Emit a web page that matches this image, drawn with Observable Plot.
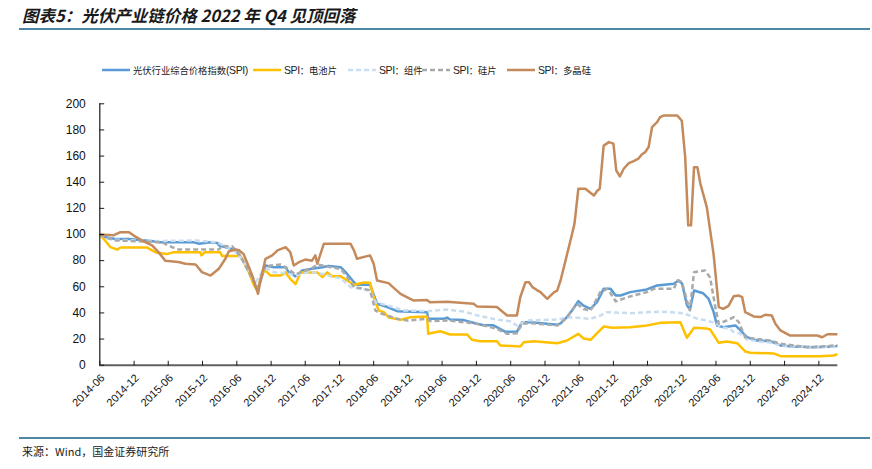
<!DOCTYPE html>
<html>
<head>
<meta charset="utf-8">
<script src="https://cdn.jsdelivr.net/npm/d3@7"></script>
<script src="https://cdn.jsdelivr.net/npm/@observablehq/plot@0.6"></script>
<style>
  body { margin: 0; background: #fff; }
  #wrap { position: relative; width: 872px; height: 469px; background: #fff; overflow: hidden; }
  #chart { position: absolute; left: 0; top: 0; }
  .title { position: absolute; left: 22px; top: 3px; font-family: "Noto Sans CJK SC", sans-serif; font-weight: bold; font-style: italic; font-size: 16.5px; color: #1a1a1a; white-space: nowrap; }
  .rule { position: absolute; left: 19px; width: 851px; height: 2px; background: #4f86a3; }
  .source { position: absolute; left: 22px; top: 443px; font-family: "Noto Sans CJK SC", sans-serif; font-size: 11px; color: #222; white-space: nowrap; }
  .lg { position: absolute; top: 63px; display: flex; align-items: center; font-family: "Noto Sans CJK SC", sans-serif; font-size: 9.3px; color: #222; white-space: nowrap; }
  .lg svg { margin-right: 3px; }
  .lg .latin { font-family: "Liberation Sans", Arial, sans-serif; font-size: 10.5px; letter-spacing: -0.4px; }
</style>
</head>
<body>
<div id="wrap">
  <div class="title">图表5：光伏产业链价格 2022 年 Q4 见顶回落</div>
  <div class="rule" style="top:28px"></div>
  <div id="legend"></div>
  <div id="chart"></div>
  <div class="rule" style="top:437px"></div>
  <div class="source">来源：Wind，国金证券研究所</div>
</div>
<script>
// ---------------- data ----------------
const seriesNames = ["光伏行业综合价格指数(SPI)", "SPI：电池片", "SPI：组件", "SPI：硅片", "SPI：多晶硅"];

const spiIndex = [
  ["2014-06-01",100],["2014-07-01",98],["2014-08-23",96.5],["2014-11-01",96.5],["2014-12-16",96],["2015-03-01",95],
  ["2015-04-16",94],["2015-10-16",94],["2015-11-10",93],["2016-01-13",94],["2016-02-19",93.5],["2016-02-28",91.6],
  ["2016-04-19",89.6],["2016-05-25",88],["2016-06-29",81.4],["2016-08-04",72.5],["2016-09-19",57.2],["2016-11-01",76.3],
  ["2016-12-16",75],["2017-02-16",75],["2017-03-04",71.2],["2017-04-10",68],["2017-05-16",72.5],["2017-07-07",73.8],
  ["2017-09-01",75],["2017-10-04",76],["2017-12-07",75],["2018-01-02",71.2],["2018-02-16",63.5],["2018-03-04",61.5],
  ["2018-05-13",61.5],["2018-06-19",47],["2018-08-13",44.5],["2018-10-04",41.3],["2019-03-13",40.6],["2019-03-19",35.5],
  ["2019-06-10",35.5],["2019-06-28",36.4],["2019-07-14",35],["2019-09-25",34.5],["2019-12-04",31.7],["2020-01-10",30.5],
  ["2020-03-01",30.5],["2020-03-19",29.1],["2020-05-04",25.5],["2020-07-04",25.5],["2020-08-01",32.9],["2020-09-16",32.9],
  ["2021-02-05",31],["2021-02-22",32],["2021-03-28",36.7],["2021-04-25",42],["2021-05-28",49],["2021-06-25",45.5],
  ["2021-08-01",43.1],["2021-09-05",48.5],["2021-10-10",58.4],["2021-11-16",58.4],["2021-12-13",53.3],["2022-01-08",53.3],
  ["2022-03-01",55.9],["2022-05-28",58],["2022-07-22",61],["2022-10-19",62.3],["2022-11-14",64.8],["2022-12-02",62.5],
  ["2022-12-28",46],["2023-01-13",42.5],["2023-02-04",57.2],["2023-03-25",55],["2023-04-22",51],["2023-05-19",41],
  ["2023-06-07",30.4],["2023-07-10",29.1],["2023-09-13",30.4],["2023-10-10",26.6],["2023-11-13",21.4],["2024-01-07",18.9],
  ["2024-03-16",18.4],["2024-05-10",15.1],["2024-07-19",14.3],["2024-11-04",13.8],["2025-02-19",14.3],["2025-03-10",14.8]
];

const cellPrices = [
  ["2014-06-01",100],["2014-07-01",95],["2014-07-28",90.3],["2014-09-02",88.4],["2014-09-19",90],["2015-02-10",90],
  ["2015-02-28",88.4],["2015-03-24",86.5],["2015-04-03",86],["2015-05-25",85],["2015-07-01",86.5],["2015-11-19",86.5],
  ["2015-11-25",84],["2015-12-13",86.5],["2016-03-04",86.5],["2016-03-14",83.5],["2016-06-20",83.5],["2016-07-07",80],
  ["2016-08-04",71.2],["2016-09-01",61],["2016-09-19",57.2],["2016-10-14",71],["2016-11-01",72.4],["2016-11-28",68.6],
  ["2017-01-22",68.6],["2017-02-16",71],["2017-03-13",66.1],["2017-04-10",62],["2017-05-07",71],["2017-08-04",71],
  ["2017-09-01",67.4],["2017-09-26",71],["2017-10-22",68],["2017-12-07",68],["2018-01-11",64.8],["2018-02-16",61.5],
  ["2018-04-10",63.3],["2018-05-13",63],["2018-06-01",52],["2018-06-28",41.9],["2018-07-25",40.6],["2018-08-19",36.7],
  ["2018-10-22",34.7],["2018-12-13",36.7],["2019-03-13",37.3],["2019-03-19",24],["2019-05-22",26],["2019-07-14",23.5],
  ["2019-10-13",23.5],["2019-11-08",19.4],["2019-12-22",18.4],["2020-03-19",18.4],["2020-04-07",15.1],["2020-07-22",14.3],
  ["2020-08-10",17.6],["2020-10-01",18.4],["2021-02-05",16.8],["2021-03-28",18.9],["2021-05-28",24],["2021-06-25",20.4],
  ["2021-08-01",19.4],["2021-09-05",24.5],["2021-10-10",29.6],["2021-11-25",28.6],["2022-03-01",29.1],["2022-05-28",30.4],
  ["2022-08-08",32.4],["2022-11-23",32.9],["2022-12-28",21],["2023-02-04",28.6],["2023-04-13",28],["2023-05-01",27.3],
  ["2023-06-16",17.1],["2023-07-28",18.2],["2023-09-22",16.8],["2023-11-04",10.5],["2023-12-01",9.5],["2024-04-04",9],
  ["2024-05-10",6.9],["2024-12-10",6.8],["2025-02-19",7.4],["2025-03-10",8.5]
];

const modulePrices = [
  ["2014-06-01",100],["2014-07-10",97],["2014-09-01",96],["2015-02-28",95],["2015-10-28",95.4],["2016-02-19",94],
  ["2016-04-10",90.3],["2016-05-07",89],["2016-05-25",86.5],["2016-07-07",80],["2016-07-16",77.6],["2016-08-13",71],
  ["2016-09-01",66],["2016-09-10",63.5],["2016-10-07",70],["2016-11-10",73.7],["2016-12-16",71.2],["2017-02-16",70.5],
  ["2017-04-10",68.6],["2017-06-10",71],["2017-07-07",71.2],["2017-09-16",69.5],["2017-10-13",68],["2017-12-07",66.5],
  ["2018-01-28",59.7],["2018-04-10",58.4],["2018-05-13",55.9],["2018-06-10",48.2],["2018-08-13",45.7],["2018-11-10",41.9],
  ["2019-03-13",41.3],["2019-06-28",42.6],["2019-09-25",41],["2019-12-22",37.5],["2020-03-19",35],["2020-06-01",33.5],
  ["2020-07-04",30.4],["2020-08-28",34.2],["2020-12-13",34.7],["2021-02-05",35],["2021-04-16",36.7],["2021-08-01",35.5],
  ["2021-09-22",38],["2021-10-28",40.6],["2022-03-01",39.8],["2022-08-08",41],["2022-11-23",40],["2022-12-28",38.8],
  ["2023-02-22",35.5],["2023-04-13",34.2],["2023-06-07",31.7],["2023-06-25",29.1],["2023-08-16",27.8],["2023-09-04",25.3],
  ["2023-10-10",24],["2023-11-13",19.7],["2024-01-25",18],["2024-04-04",17.1],["2024-05-10",15.1],["2024-11-04",13.8],
  ["2025-03-10",14.3]
];

const waferPrices = [
  ["2014-06-01",100],["2014-07-10",97.5],["2014-08-23",95.5],["2015-02-28",94.5],["2015-04-28",94],["2015-06-22",90.3],
  ["2015-07-25",88.5],["2016-02-26",88.5],["2016-03-14",91.2],["2016-05-07",91],["2016-06-13",85.3],["2016-07-16",76.3],
  ["2016-09-10",61],["2016-09-19",57],["2016-10-22",73.8],["2016-11-28",76.3],["2017-01-22",77],["2017-02-16",75],
  ["2017-04-10",69.5],["2017-05-16",71.5],["2017-07-07",74.3],["2017-08-04",77],["2017-09-16",75.8],["2017-10-13",75],
  ["2017-12-07",73.7],["2018-01-11",67.4],["2018-02-16",59.7],["2018-04-10",58.4],["2018-05-13",57.2],["2018-06-10",41.9],
  ["2018-07-07",39.8],["2018-10-04",35.5],["2018-11-28",34.2],["2019-03-13",35.5],["2019-03-28",33.8],["2019-06-28",34.2],
  ["2019-09-25",32.9],["2019-12-04",31.7],["2020-03-19",27.8],["2020-05-13",24],["2020-07-04",24.5],["2020-08-01",31.7],
  ["2020-09-16",32.2],["2021-02-05",30.3],["2021-03-28",36.7],["2021-05-20",47],["2021-06-25",43],["2021-08-01",41.8],
  ["2021-09-22",55.9],["2021-10-28",58.4],["2021-11-16",55],["2021-12-13",48.8],["2022-02-13",52],["2022-05-28",55.9],
  ["2022-07-04",58.4],["2022-10-19",58.4],["2022-11-07",64.8],["2022-12-02",63.5],["2022-12-28",49.5],["2023-01-13",42],
  ["2023-02-04",71.2],["2023-04-04",72.5],["2023-05-01",67],["2023-05-28",45],["2023-06-16",31.7],["2023-07-28",34.2],
  ["2023-09-04",36.7],["2023-10-01",33],["2023-11-04",21.4],["2023-12-19",20.4],["2024-03-16",18.9],["2024-05-10",16.4],
  ["2024-10-01",13.8],["2024-12-28",14.5],["2025-03-10",15.3]
];

const polyPrices = [
  ["2014-06-01",100],["2014-08-15",99.5],["2014-09-19",101.8],["2014-11-04",101.8],["2014-12-01",99],["2015-01-13",95.4],
  ["2015-03-07",91.6],["2015-04-10",86.5],["2015-05-16",80],["2015-07-25",79],["2015-09-01",77.6],["2015-10-25",77],
  ["2015-11-28",71.2],["2016-01-13",68.6],["2016-02-26",73.8],["2016-04-01",81.4],["2016-04-19",87],["2016-05-25",88.5],
  ["2016-06-13",88],["2016-07-07",85],["2016-07-25",78.8],["2016-08-22",68.6],["2016-09-22",54.6],["2016-10-07",66],
  ["2016-11-01",81.4],["2016-12-07",84],["2017-01-04",87.8],["2017-02-16",90.3],["2017-03-13",86.5],["2017-04-01",76.3],
  ["2017-04-28",78.8],["2017-06-01",80.8],["2017-07-07",80],["2017-07-25",84],["2017-08-04",77.6],["2017-09-08",92.9],
  ["2017-10-13",93],["2018-01-28",93],["2018-02-16",87.8],["2018-03-04",81.4],["2018-05-13",84],["2018-06-01",77.6],
  ["2018-06-19",64.8],["2018-08-19",62.8],["2018-10-22",54.6],["2018-12-13",50.8],["2019-01-01",49.5],["2019-03-13",49.8],
  ["2019-03-28",48.2],["2019-06-28",48.5],["2019-11-16",47],["2019-12-04",45],["2020-03-19",44.5],["2020-05-13",38],
  ["2020-07-04",38],["2020-07-22",52],["2020-08-19",63.5],["2020-09-07",63.5],["2020-09-25",59.7],["2020-10-19",57.5],
  ["2020-11-07",55.9],["2020-12-13",50.8],["2021-01-19",55.9],["2021-02-04",57],["2021-02-22",64.8],["2021-04-16",95.4],
  ["2021-05-07",108],["2021-05-28",135],["2021-07-04",135],["2021-08-19",129.9],["2021-09-07",133.7],["2021-09-19",135],
  ["2021-10-10",168],["2021-11-07",170.7],["2021-12-01",169.5],["2021-12-16",149],["2022-01-04",144.4],["2022-01-25",150.3],
  ["2022-02-21",154.6],["2022-03-19",156.2],["2022-04-13",158],["2022-05-01",161.2],["2022-05-19",163],["2022-06-07",166.9],
  ["2022-06-25",182.1],["2022-07-22",186],["2022-08-07",189.8],["2022-08-25",191],["2022-11-07",191],["2022-12-01",187],
  ["2022-12-19",159],["2023-01-04",107],["2023-01-19",107],["2023-02-04",151.5],["2023-02-22",151.5],["2023-03-10",138.8],
  ["2023-04-13",121],["2023-05-19",85.3],["2023-06-16",44.4],["2023-07-10",43.1],["2023-08-07",45.4],["2023-09-04",52.8],
  ["2023-10-01",53.3],["2023-10-19",52],["2023-11-04",40.6],["2023-12-19",37.3],["2024-01-25",36.8],["2024-02-19",38.6],
  ["2024-03-25",38],["2024-04-13",31.7],["2024-05-10",26.6],["2024-07-01",22.7],["2024-11-22",22.7],["2024-12-19",21.4],
  ["2025-01-16",23.7],["2025-03-10",23.7]
];

const xTickLabels = ["2014-06","2014-12","2015-06","2015-12","2016-06","2016-12","2017-06","2017-12","2018-06","2018-12",
  "2019-06","2019-12","2020-06","2020-12","2021-06","2021-12","2022-06","2022-12","2023-06","2023-12","2024-06","2024-12"];
const yTicks = [0,20,40,60,80,100,120,140,160,180,200];

// ---------------- styling ----------------
const seriesStyles = [
  {color: "#5b9bd5", dash: null},
  {color: "#ffc000", dash: null},
  {color: "#c9ddf0", dash: "5,3"},
  {color: "#a9a9a9", dash: "5,3"},
  {color: "#c48a5c", dash: null}
];
const legendLeft = [102, 253, 348, 422, 507];

const parseDay = d3.utcParse("%Y-%m-%d");
const parseMonth = d3.utcParse("%Y-%m");
const allSeries = [spiIndex, cellPrices, modulePrices, waferPrices, polyPrices];
const rows = allSeries.map((s, i) => s.map(([d, v]) => ({date: parseDay(d), value: v, name: seriesNames[i]})));

const xStart = parseMonth(xTickLabels[0]);
const xEnd = parseDay("2025-03-12");

const tickShape = { draw(context, l) { context.moveTo(0, 0); context.lineTo(0, -l); } };

const chart = Plot.plot({
  width: 872,
  height: 469,
  marginLeft: 99.3,
  marginRight: 34.7,
  marginTop: 103.3,
  marginBottom: 104.3,
  x: {type: "utc", domain: [xStart, xEnd], axis: null},
  y: {domain: [0, 200], axis: null},
  style: {fontFamily: "'Liberation Sans', Arial, sans-serif", fontSize: "12px", background: "transparent", overflow: "visible"},
  marks: [
    ...rows.map((r, i) => Plot.lineY(r, {
      x: "date", y: "value", stroke: seriesStyles[i].color, strokeWidth: 2.5,
      strokeDasharray: seriesStyles[i].dash, strokeLinejoin: "round", strokeLinecap: "butt"
    })),
    Plot.ruleX([xStart], {stroke: "#1a1a1a", strokeWidth: 1.2}),
    Plot.ruleY([0], {stroke: "#606060", strokeWidth: 2}),
    Plot.vector(yTicks, {x: () => xStart, y: d => d, length: 4, rotate: 90, anchor: "start", stroke: "#1a1a1a", strokeWidth: 1, shape: tickShape}),
    Plot.vector(xTickLabels, {x: d => parseMonth(d), y: () => 0, length: 4, rotate: 0, anchor: "start", stroke: "#1a1a1a", strokeWidth: 1, shape: tickShape}),
    Plot.text(yTicks, {x: () => xStart, y: d => d, text: d => String(d), textAnchor: "end", dx: -14, fill: "#111", fontSize: 12}),
    Plot.text(xTickLabels, {x: d => parseMonth(d), y: () => 0, text: d => d, rotate: -45, textAnchor: "end", dx: 3, dy: 11, fill: "#111", fontSize: 11})
  ]
});
document.getElementById("chart").appendChild(chart);

// ---------------- legend ----------------
const legend = document.getElementById("legend");
seriesNames.forEach((name, i) => {
  const item = document.createElement("div");
  item.className = "lg";
  item.style.left = legendLeft[i] + "px";
  const st = seriesStyles[i];
  const svgNS = "http://www.w3.org/2000/svg";
  const sw = document.createElementNS(svgNS, "svg");
  sw.setAttribute("width", 28); sw.setAttribute("height", 12);
  const ln = document.createElementNS(svgNS, "line");
  ln.setAttribute("x1", 0); ln.setAttribute("x2", 28); ln.setAttribute("y1", 6); ln.setAttribute("y2", 6);
  ln.setAttribute("stroke", st.color); ln.setAttribute("stroke-width", 2.5);
  if (st.dash) ln.setAttribute("stroke-dasharray", st.dash);
  sw.appendChild(ln);
  item.appendChild(sw);
  const label = document.createElement("span");
  name.split(/(\(SPI\)|SPI)/).filter(Boolean).forEach(part => {
    const sp = document.createElement("span");
    if (/SPI/.test(part)) sp.className = "latin";
    sp.textContent = part;
    label.appendChild(sp);
  });
  item.appendChild(label);
  legend.appendChild(item);
});
</script>
</body>
</html>
